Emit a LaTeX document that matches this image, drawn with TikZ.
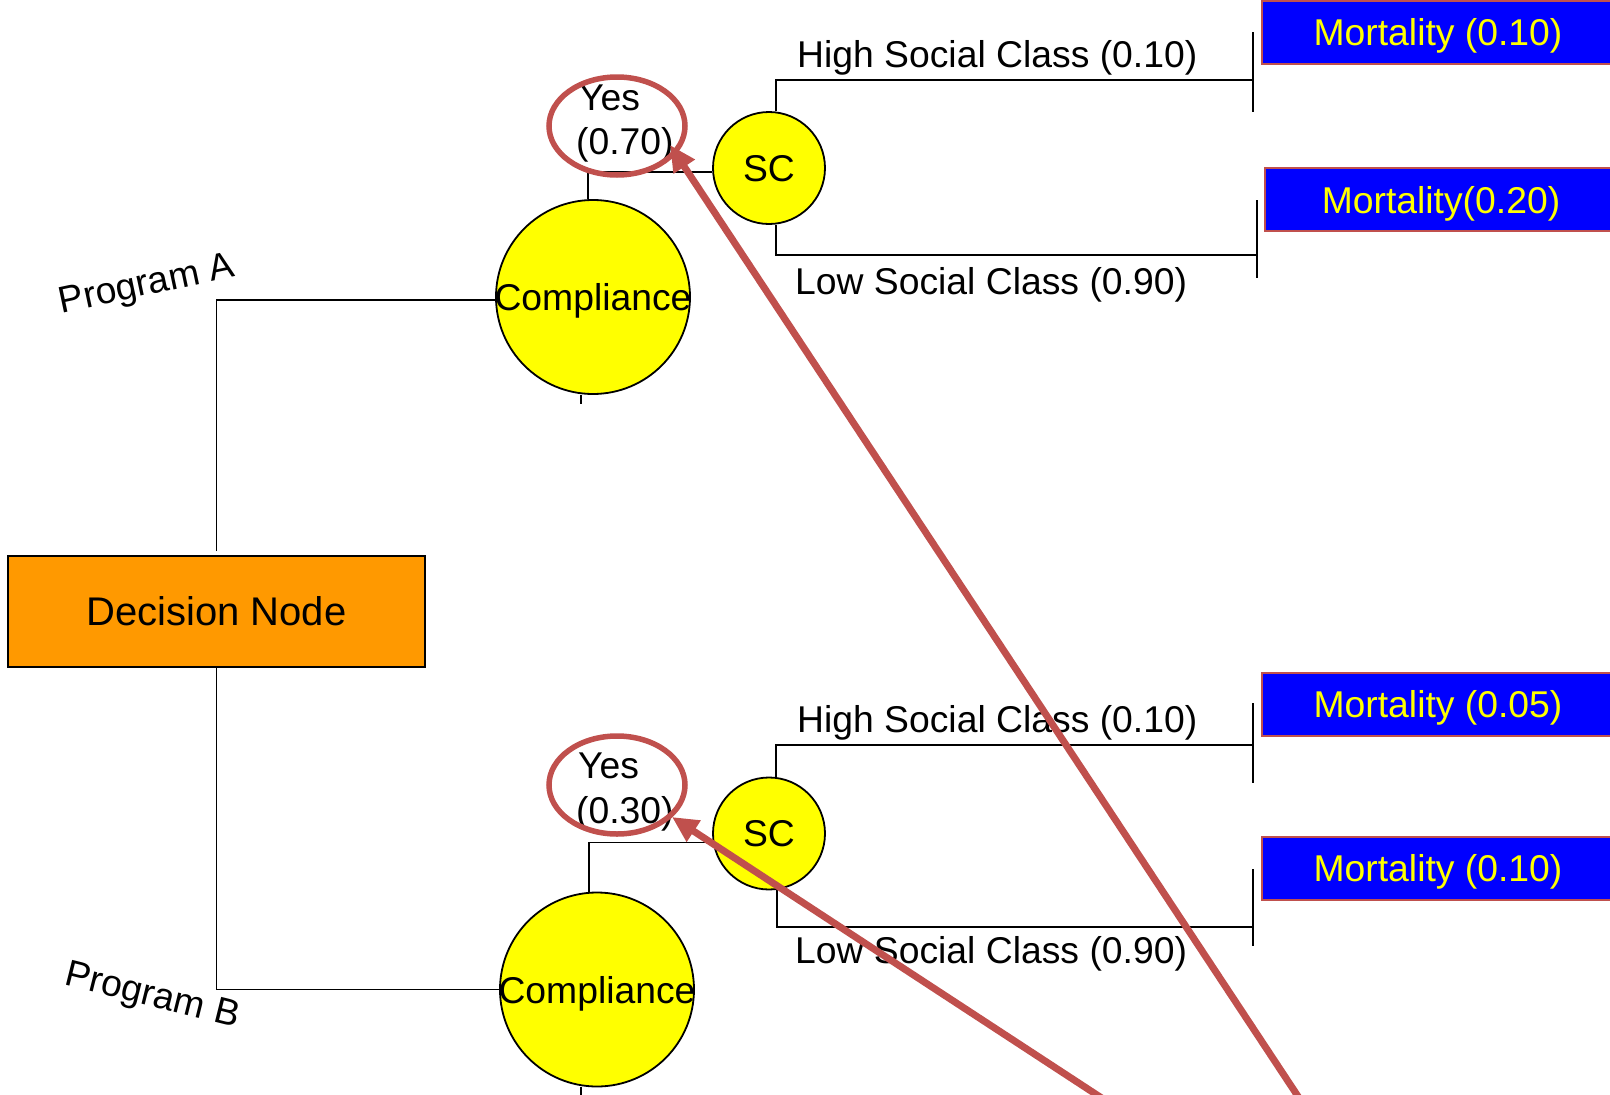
\documentclass[tikz,border=0pt]{standalone}
\usepackage{fontspec}
\setmainfont{Liberation Sans}
\usetikzlibrary{arrows.meta,shapes.geometric}
\definecolor{decorange}{HTML}{FF9900}
\definecolor{chanceyellow}{HTML}{FFFF00}
\definecolor{outblue}{HTML}{0000FF}
\definecolor{markred}{HTML}{C0504D}
\begin{document}
\begin{tikzpicture}[x=1pt,y=-1pt,
  every node/.style={font=\fontsize{37.3}{44}\selectfont},
  branch/.style={line width=1.8pt},
  decbox/.style={rectangle, draw, line width=1.8pt, fill=decorange,
    minimum width=417pt, minimum height=111pt, inner sep=0pt,
    font=\fontsize{40}{48}\selectfont},
  chance/.style={circle, draw, line width=1.8pt, fill=chanceyellow,
    inner sep=0pt, text depth=0pt},
  outcome/.style={rectangle, draw=markred, line width=2pt, fill=outblue,
    text=chanceyellow, minimum width=352pt, minimum height=63pt,
    inner sep=0pt, text depth=0pt, anchor=west},
  lbl/.style={inner sep=0pt},
  ring/.style={ellipse, draw=markred, line width=5.5pt, inner sep=0pt,
    minimum width=136pt, minimum height=98pt},
  pointer/.style={draw=markred, line width=7pt,
    -{Triangle[length=26pt,width=24pt]}}]

\useasboundingbox (0,0) rectangle (1610,1095);
\clip (0,0) rectangle (1610,1095);

% decision node and the two chance nodes for compliance
\node[decbox] (dec) at (216.5,611.5) {Decision Node};
\node[chance, minimum size=194pt] (compA) at (593,297) {\makebox[0pt]{Compliance}};
\node[chance, minimum size=194pt] (compB) at (597,989.5) {\makebox[0pt]{Compliance}};

% social class chance nodes
\node[chance, minimum size=112pt] (scA) at (769,168) {SC};
\node[chance, minimum size=112pt] (scB) at (769,833.5) {SC};

% terminal points of the branches
\coordinate (endA1) at (1253,80);
\coordinate (endA2) at (1257,255);
\coordinate (endB1) at (1253,745);
\coordinate (endB2) at (1253,927);

% outcome boxes
\node[outcome] (mA1) at (1261,32) {Mortality (0.10)};
\node[outcome] (mA2) at (1264,199.5) {Mortality(0.20)};
\node[outcome] (mB1) at (1261,704) {Mortality (0.05)};
\node[outcome] (mB2) at (1261,868) {Mortality (0.10)};

% branches
\draw[branch, shorten <=4pt] (dec.north) |- ([yshift=-3pt]compA.west);
\draw[branch] (dec.south) |- (compB.west);
\draw[branch] ([xshift=-5pt]compA.north) |- ([yshift=-4pt]scA.west);
\draw[branch] ([xshift=-8pt]compB.north) |- ([yshift=-9pt]scB.west);
\draw[branch] ([xshift=7pt]scA.north) |- (endA1);
\draw[branch] ([xshift=7pt]scA.south) |- (endA2);
\draw[branch] ([xshift=7pt]scB.north) |- (endB1);
\draw[branch] ([xshift=8pt]scB.south) |- (endB2);

% end ticks
\draw[branch] ([yshift=48pt]endA1) -- ([yshift=-32pt]endA1);
\draw[branch] ([yshift=55pt]endA2) -- ([yshift=-23pt]endA2);
\draw[branch] ([yshift=42pt]endB1) -- ([yshift=-38pt]endB1);
\draw[branch] ([yshift=58pt]endB2) -- ([yshift=-19pt]endB2);
\draw[branch] ([xshift=-12pt]compA.south) -- ++(0,9);
\draw[branch] ([xshift=-16pt]compB.south) -- ++(0,10);

% branch labels
\node[lbl, rotate=12] (progA) at (147,286) {Program A};
\node[lbl, rotate=-14] (progB) at (152,997) {Program B};
\node[lbl, anchor=base west] (hiA) at (797,67) {High Social Class (0.10)};
\node[lbl, anchor=base west] (loA) at (795,294) {Low Social Class (0.90)};
\node[lbl, anchor=base west] (hiB) at (797,732) {High Social Class (0.10)};
\node[lbl, anchor=base west] (loB) at (795,963) {Low Social Class (0.90)};
\node[lbl, anchor=base west] (yesA) at (579,110) {Yes};
\node[lbl, anchor=base west] (pA) at (576,154) {(0.70)};
\node[lbl, anchor=base west] (yesB) at (578,778) {Yes};
\node[lbl, anchor=base west] (pB) at (576,823) {(0.30)};

% highlight rings and pointers
\node[ring] (ringA) at (617,126) {};
\node[ring] (ringB) at (617,785) {};
\coordinate (tailA) at (1307,1110);
\coordinate (tipA) at (670,145);
\coordinate (tailB) at (1120,1110);
\coordinate (tipB) at (672,817);
\draw[pointer] (tailA) -- (tipA);
\draw[pointer] (tailB) -- (tipB);
\end{tikzpicture}
\end{document}
